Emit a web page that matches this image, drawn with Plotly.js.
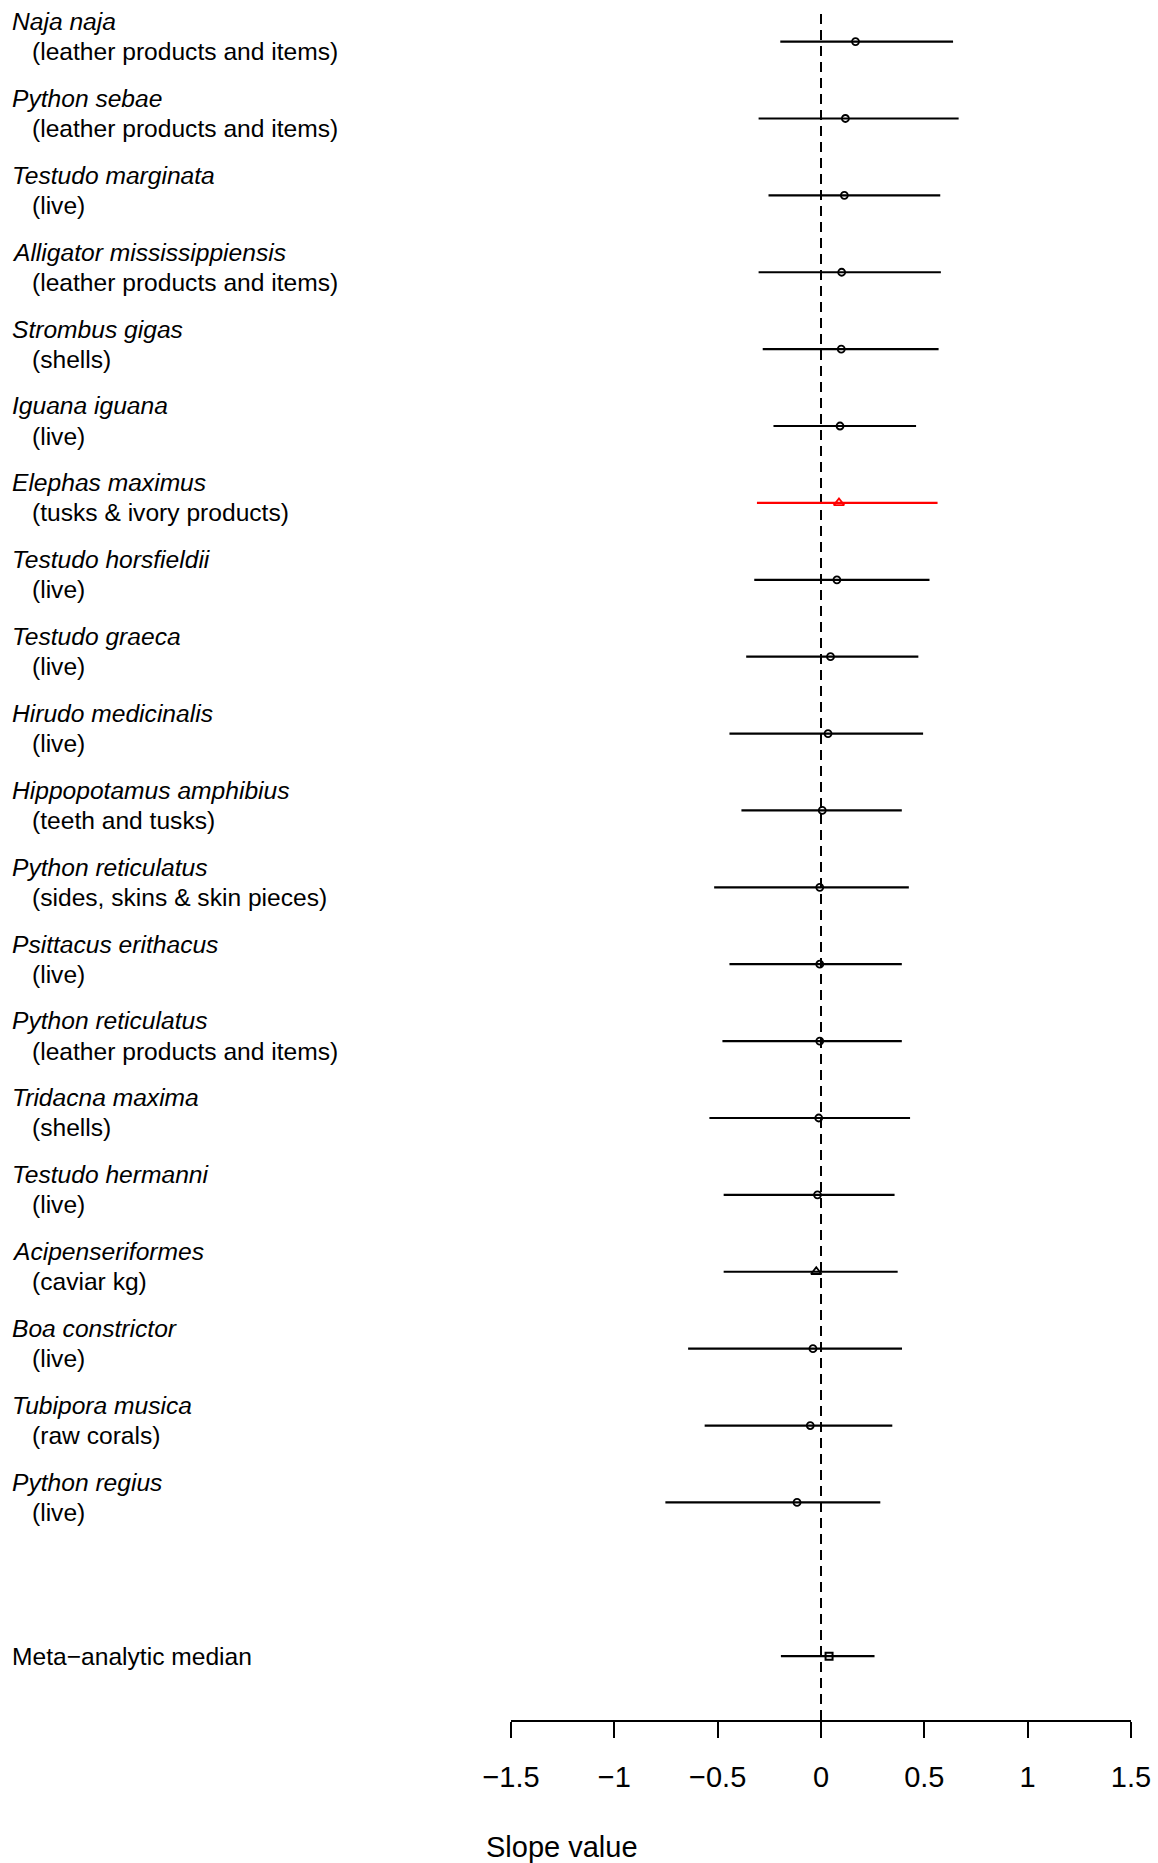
<!DOCTYPE html>
<html>
<head>
<meta charset="utf-8">
<script src="https://cdn.plot.ly/plotly-3.0.1.min.js"></script>
<style>html,body{margin:0;padding:0;background:#fff;}#chart{width:1158px;height:1863px;}</style>
</head>
<body>
<div id="chart"></div>
<script>
// ---- data ----
const species = ["Naja naja","Python sebae","Testudo marginata","Alligator mississippiensis","Strombus gigas","Iguana iguana","Elephas maximus","Testudo horsfieldii","Testudo graeca","Hirudo medicinalis","Hippopotamus amphibius","Python reticulatus","Psittacus erithacus","Python reticulatus","Tridacna maxima","Testudo hermanni","Acipenseriformes","Boa constrictor","Tubipora musica","Python regius"];
const products = ["(leather products and items)","(leather products and items)","(live)","(leather products and items)","(shells)","(live)","(tusks & ivory products)","(live)","(live)","(live)","(teeth and tusks)","(sides, skins & skin pieces)","(live)","(leather products and items)","(shells)","(live)","(caviar kg)","(live)","(raw corals)","(live)"];
const estimate = [0.167,0.118,0.113,0.100,0.098,0.092,0.087,0.077,0.046,0.034,0.006,-0.006,-0.006,-0.006,-0.011,-0.017,-0.023,-0.039,-0.052,-0.116];
const lower    = [-0.197,-0.302,-0.254,-0.302,-0.282,-0.230,-0.310,-0.323,-0.362,-0.443,-0.385,-0.517,-0.443,-0.477,-0.540,-0.471,-0.471,-0.643,-0.563,-0.753];
const upper    = [0.639,0.666,0.577,0.580,0.569,0.460,0.564,0.525,0.471,0.494,0.391,0.425,0.391,0.391,0.431,0.356,0.371,0.392,0.345,0.287];
const markerType = ["circle","circle","circle","circle","circle","circle","triangle-red","circle","circle","circle","circle","circle","circle","circle","circle","circle","triangle","circle","circle","circle"];
const medianLabel = "Meta\u2212analytic median";
const medianEstimate = 0.039, medianLower = -0.194, medianUpper = 0.259;
const tickVals = [-1.5,-1,-0.5,0,0.5,1,1.5];
const tickText = ["\u22121.5","\u22121","\u22120.5","0","0.5","1","1.5"];
const xTitle = "Slope value";

// ---- build ----
const FONT = "Liberation Sans, Arial, sans-serif";
const n = species.length;
const rowPos = species.map((_, i) => i + 1);
const medianPos = n + 2;

function makeTrace(filterFn, symbol, color) {
  const idx = [];
  for (let i = 0; i < n; i++) if (filterFn(markerType[i])) idx.push(i);
  return {
    type: "scatter", mode: "markers",
    x: idx.map(i => estimate[i]),
    y: idx.map(i => rowPos[i]),
    marker: {symbol: symbol, size: symbol.indexOf("triangle") === 0 ? 9 : 7, color: color, line: {color: color, width: 1.8}},
    error_x: {type: "data", symmetric: false,
      array: idx.map(i => upper[i] - estimate[i]),
      arrayminus: idx.map(i => estimate[i] - lower[i]),
      color: color, thickness: 2.2, width: 0},
    hoverinfo: "skip", showlegend: false, cliponaxis: false
  };
}

const traces = [
  makeTrace(t => t === "circle", "circle-open", "#000000"),
  makeTrace(t => t === "triangle", "triangle-up-open", "#000000"),
  makeTrace(t => t === "triangle-red", "triangle-up-open", "#ff0000"),
  {
    type: "scatter", mode: "markers",
    x: [medianEstimate], y: [medianPos],
    marker: {symbol: "square-open", size: 7, color: "#000", line: {color: "#000", width: 2}},
    error_x: {type: "data", symmetric: false, array: [medianUpper - medianEstimate], arrayminus: [medianEstimate - medianLower], color: "#000", thickness: 2.2, width: 0},
    hoverinfo: "skip", showlegend: false, cliponaxis: false
  }
];

const W = 1158, H = 1863;
const margin = {l: 511, r: 27, t: 8, b: 143};
const plotW = W - margin.l - margin.r;
const plotH = H - margin.t - margin.b;
const px2paperX = px => (px - margin.l) / plotW;

const annotations = [];
for (let i = 0; i < n; i++) {
  annotations.push({xref: "paper", yref: "y", x: px2paperX(9.5), y: rowPos[i] - 0.262, xanchor: "left", yanchor: "middle",
    text: "<i>" + species[i] + "</i>", showarrow: false, font: {family: FONT, size: 24.6, color: "#000"}});
  annotations.push({xref: "paper", yref: "y", x: px2paperX(29.5), y: rowPos[i] + 0.13, xanchor: "left", yanchor: "middle",
    text: products[i], showarrow: false, font: {family: FONT, size: 24.6, color: "#000"}});
}
annotations.push({xref: "paper", yref: "y", x: px2paperX(9.5), y: medianPos, xanchor: "left", yanchor: "middle",
  text: medianLabel, showarrow: false, font: {family: FONT, size: 24.6, color: "#000"}});
annotations.push({xref: "paper", yref: "paper", x: px2paperX(484), y: -(1847 - (H - margin.b)) / plotH, xanchor: "left", yanchor: "middle",
  text: xTitle, showarrow: false, font: {family: FONT, size: 29, color: "#000"}});

const layout = {
  width: W, height: H, margin: margin,
  paper_bgcolor: "#fff", plot_bgcolor: "#fff",
  showlegend: false,
  font: {family: FONT, color: "#000"},
  xaxis: {range: [-1.5, 1.5], autorange: false, showgrid: false, zeroline: false,
    showline: true, linecolor: "#000", linewidth: 2,
    ticks: "outside", ticklen: 16, tickwidth: 2, tickcolor: "#000",
    tickmode: "array", tickvals: tickVals, ticktext: tickText,
    tickfont: {family: FONT, size: 29, color: "#000"}, ticklabelstandoff: 14},
  yaxis: {range: [22.83, 0.563], autorange: false, visible: false, showgrid: false, zeroline: false},
  shapes: [{type: "line", xref: "x", yref: "paper", x0: 0, x1: 0, y0: 0, y1: 1,
    line: {color: "#000", width: 2, dash: "10px,6px"}, layer: "below"}],
  annotations: annotations
};

Plotly.newPlot("chart", traces, layout, {staticPlot: true, displayModeBar: false});
</script>
</body>
</html>
